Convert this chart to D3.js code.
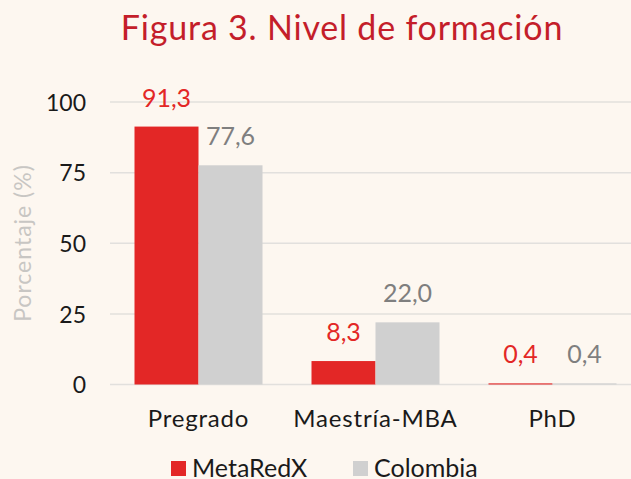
<!DOCTYPE html>
<html><head><meta charset="utf-8">
<script src="https://cdn.jsdelivr.net/npm/d3@7"></script>
<style>
html,body{margin:0;padding:0;background:#fdf7f0;}
svg{display:block;}
text{font-family:"Lato","Noto Sans",sans-serif;}
</style></head>
<body>
<svg id="chart" width="631" height="479"></svg>
<script>
const categories = ["Pregrado", "Maestría-MBA", "PhD"];
const seriesNames = ["MetaRedX", "Colombia"];
const metaRedX = [91.3, 8.3, 0.4];
const colombia = [77.6, 22.0, 0.4];
const yTicks = [0, 25, 50, 75, 100];
const title = "Figura 3. Nivel de formación";
const yTitle = "Porcentaje (%)";
const colors = ["#e32726", "#d0d0d0"];
const labelColors = ["#e32726", "#7f7f7f"];

(function(){
const svg = d3.select("#chart");
svg.append("rect").attr("width",631).attr("height",479).attr("fill","#fdf7f0");

const mLeft = 110, mRight = 641, mTop = 102, mBottom = 384.5;
const x = d3.scaleBand().domain(categories).range([mLeft, mRight]).paddingInner(0).paddingOuter(0);
const y = d3.scaleLinear().domain([0,100]).range([mBottom, mTop]);
const xs = d3.scaleBand().domain(seriesNames).range([0, 128]);
const groupOffset = (x.bandwidth() - 128) / 2;

// gridlines
svg.append("g").selectAll("line").data(yTicks).join("line")
  .attr("x1", mLeft).attr("x2", 631)
  .attr("y1", d => y(d)).attr("y2", d => y(d))
  .attr("stroke", "#e2e0dd").attr("stroke-width", 1.5);

// y axis labels
const yAxis = d3.axisLeft(y).tickValues(yTicks).tickSize(0).tickPadding(0).tickFormat(d3.format("d"));
const ya = svg.append("g").attr("transform", `translate(${mLeft-24},0)`).call(yAxis);
ya.select(".domain").remove();
ya.selectAll("text").attr("font-size", 23).attr("fill", "#1a1a1a").attr("dy", "0.36em")
  .style("font-family", "Lato, 'Noto Sans', sans-serif");

// bars
const data = categories.map((c,i) => ({c, vals:[metaRedX[i], colombia[i]]}));
const groups = svg.append("g").selectAll("g").data(data).join("g")
  .attr("transform", d => `translate(${x(d.c)+groupOffset},0)`);
groups.selectAll("rect").data(d => d.vals.map((v,j)=>({v,j,s:seriesNames[j]}))).join("rect")
  .attr("x", d => xs(d.s)).attr("width", xs.bandwidth())
  .attr("y", d => y(d.v)).attr("height", d => y(0)-y(d.v))
  .attr("fill", d => colors[d.j]);
groups.selectAll("text").data(d => d.vals.map((v,j)=>({v,j,s:seriesNames[j]}))).join("text")
  .attr("x", d => xs(d.s) + xs.bandwidth()/2)
  .attr("y", d => y(d.v) - 20)
  .attr("text-anchor","middle").attr("font-size", 25)
  .attr("fill", d => labelColors[d.j])
  .text(d => d.v.toFixed(1).replace(".", ","));

// x axis labels
const xAxis = d3.axisBottom(x).tickSize(0).tickPadding(0);
const xa = svg.append("g").attr("transform", `translate(0,${mBottom})`).call(xAxis);
xa.select(".domain").remove();
xa.selectAll("text").attr("font-size", 24).attr("fill", "#1a1a1a").attr("dy", null).attr("y", 42)
  .style("font-family", "Lato, 'Noto Sans', sans-serif").style("letter-spacing", "0.8px");

// title
svg.append("text").attr("x", 342).attr("y", 40).attr("text-anchor","middle")
  .attr("font-size", 34).attr("fill", "#c41e2a").style("letter-spacing", "0.8px").text(title);

// y title
svg.append("text").attr("transform", `translate(31,243) rotate(-90)`)
  .attr("text-anchor","middle").attr("font-size", 23).attr("fill", "#c8c6c3")
  .style("letter-spacing", "1px").text(yTitle);

// legend
const legX = [171, 353];
const leg = svg.append("g").selectAll("g").data(seriesNames).join("g")
  .attr("transform", (d,i) => `translate(${legX[i]},461)`);
leg.append("rect").attr("width", 15).attr("height", 15).attr("fill", (d,i) => colors[i]);
leg.append("text").attr("x", 21).attr("y", 15.5).attr("font-size", 25).attr("fill", "#1a1a1a").text(d => d);
})();
</script>
</body></html>
